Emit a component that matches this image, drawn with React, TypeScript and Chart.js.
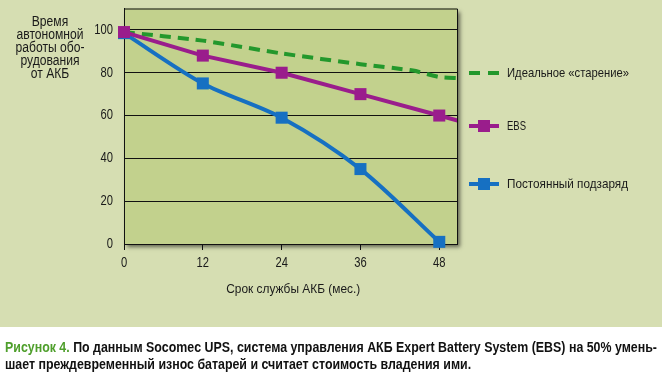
import React, { useEffect, useRef } from "react";
import { Chart, registerables } from "chart.js";

Chart.register(...registerables);

const FONT = "'Liberation Sans', Arial, sans-serif";

// Data (months, % of autonomous runtime)
const idealMonths = [0, 12, 24, 36, 44, 48, 51];
const idealValues = [99, 95, 89, 84, 81, 78, 77.5];
const ebsMonths = [0, 12, 24, 36, 48, 51];
const ebsValues = [99, 88, 80, 70, 60, 57.5];
const floatMonths = [0, 12, 24, 36, 48];
const floatValues = [98.5, 75, 59, 35, 1];

const xTicks = [0, 12, 24, 36, 48];
const yTicks = [0, 20, 40, 60, 80, 100];

const seriesNames = ["Идеальное «старение»", "EBS", "Постоянный подзаряд"];
const yTitleLines = ["Время", "автономной", "работы обо-", "рудования", "от АКБ"];
const xTitle = "Срок службы АКБ (мес.)";
const captionLead = "Рисунок 4.";
const captionLine1 = " По данным Socomec UPS, система управления АКБ Expert Battery System (EBS) на 50% умень-";
const captionLine2 = "шает преждевременный износ батарей и считает стоимость владения ими.";

const GREEN = "#23982c";
const PURPLE = "#9a1d8c";
const BLUE = "#1670c2";
const BG = "#d6deb2";
const PLOT = "#c2d18d";
const TEXT = "#1a1a1a";
const TICK_SQUEEZE = 0.8;

const bgPlugin = {
  id: "bgPlugin",
  beforeDraw(chart: any) {
    const { ctx, chartArea: a, width, height } = chart;
    ctx.save();
    ctx.fillStyle = "#ffffff";
    ctx.fillRect(0, 0, width, height);
    ctx.fillStyle = BG;
    ctx.fillRect(0, 0, width, 327);
    ctx.shadowColor = "rgba(0,0,0,0.55)";
    ctx.shadowBlur = 4;
    ctx.shadowOffsetX = 3;
    ctx.shadowOffsetY = 3;
    ctx.fillStyle = PLOT;
    ctx.fillRect(a.left, a.top, a.right - a.left, a.bottom - a.top);
    ctx.shadowColor = "transparent";
    ctx.strokeStyle = "#111";
    ctx.lineWidth = 1;
    ctx.beginPath();
    ctx.moveTo(a.left, a.top + 0.5);
    ctx.lineTo(a.right + 0.5, a.top + 0.5);
    ctx.lineTo(a.right + 0.5, a.bottom);
    ctx.stroke();
    ctx.restore();
  },
};

// draws the scales' tick labels in a condensed face
const tickLabelPlugin = {
  id: "tickLabelPlugin",
  afterDraw(chart: any) {
    const { ctx } = chart;
    const xs = chart.scales.x;
    const ys = chart.scales.y;
    ctx.save();
    ctx.fillStyle = TEXT;
    ctx.font = `14px ${FONT}`;
    ctx.textBaseline = "middle";
    const draw = (text: string, x: number, y: number, align: "center" | "right") => {
      ctx.save();
      ctx.translate(x, y);
      ctx.scale(TICK_SQUEEZE, 1);
      ctx.textAlign = align;
      ctx.fillText(text, 0, 0);
      ctx.restore();
    };
    xs.ticks.forEach((t: any) => draw(String(t.value), xs.getPixelForValue(t.value), xs.top + 19, "center"));
    ys.ticks.forEach((t: any) => draw(String(t.value), ys.right - 11, ys.getPixelForValue(t.value), "right"));
    ctx.restore();
  },
};

function toXY(xs: number[], ys: number[]) {
  return xs.map((x, i) => ({ x, y: ys[i] }));
}

function LegendMark({ color, dashed }: { color: string; dashed?: boolean }) {
  if (dashed) {
    return (
      <div style={{ position: "relative", width: 30, height: 12 }}>
        <div style={{ position: "absolute", left: 0, top: 4, width: 11, height: 4, background: color }} />
        <div style={{ position: "absolute", left: 19, top: 4, width: 11, height: 4, background: color }} />
      </div>
    );
  }
  return (
    <div style={{ position: "relative", width: 30, height: 12 }}>
      <div style={{ position: "absolute", left: 0, top: 4, width: 30, height: 4, background: color }} />
      <div style={{ position: "absolute", left: 9, top: 0, width: 12, height: 12, background: color }} />
    </div>
  );
}

export default function App() {
  const ref = useRef<HTMLCanvasElement | null>(null);
  const rootRef = useRef<HTMLDivElement | null>(null);

  useEffect(() => {
    // squeeze html text horizontally to the condensed widths of the original
    const root = rootRef.current;
    if (root) {
      root.querySelectorAll<HTMLElement>("[data-w]").forEach((el) => {
        const target = parseFloat(el.dataset.w || "0");
        const measureEl = (el.querySelector("[data-m]") as HTMLElement) || el;
        const w = measureEl.getBoundingClientRect().width;
        if (w > 0 && target > 0) el.style.transform = `scaleX(${target / w})`;
      });
    }
    if (!ref.current) return;
    const chart = new Chart(ref.current, {
      type: "line",
      data: {
        datasets: [
          {
            label: seriesNames[1],
            data: toXY(ebsMonths, ebsValues),
            borderColor: PURPLE,
            backgroundColor: PURPLE,
            borderWidth: 4,
            pointStyle: "rect",
            pointRadius: ebsMonths.map((m) => (m <= 48 ? 8.5 : 0)),
            pointBorderWidth: 0,
            tension: 0,
            order: 0,
            clip: { left: false, top: false, right: 0, bottom: false } as any,
          },
          {
            label: seriesNames[2],
            data: toXY(floatMonths, floatValues),
            borderColor: BLUE,
            backgroundColor: BLUE,
            borderWidth: 4,
            pointStyle: "rect",
            pointRadius: 8.5,
            pointBorderWidth: 0,
            tension: 0.3,
            order: 1,
            clip: { left: false, top: false, right: 0, bottom: false } as any,
          },
          {
            label: seriesNames[0],
            data: toXY(idealMonths, idealValues),
            borderColor: GREEN,
            backgroundColor: GREEN,
            borderWidth: 4,
            borderDash: [11, 7],
            pointRadius: 0,
            tension: 0.2,
            order: 2,
            clip: { left: false, top: false, right: 0, bottom: false } as any,
          },
        ],
      },
      options: {
        responsive: false,
        animation: false,
        maintainAspectRatio: false,
        layout: { padding: { top: 8, right: 205, bottom: 0, left: 0 } },
        plugins: { legend: { display: false }, tooltip: { enabled: false } },
        scales: {
          x: {
            type: "linear",
            min: 0,
            max: 50.7,
            afterBuildTicks: (s: any) => {
              s.ticks = xTicks.map((v) => ({ value: v }));
            },
            afterFit: (s: any) => {
              s.height = 130;
              s.paddingLeft = 0;
              s.paddingRight = 0;
            },
            grid: { drawOnChartArea: false, drawTicks: true, tickLength: 6, color: "#111", lineWidth: 1 },
            border: { display: true, color: "#111", width: 1 },
            ticks: { display: false },
          },
          y: {
            type: "linear",
            min: 0,
            max: 110,
            afterBuildTicks: (s: any) => {
              s.ticks = yTicks.map((v) => ({ value: v }));
            },
            afterFit: (s: any) => {
              s.width = 124;
              s.paddingTop = 0;
              s.paddingBottom = 0;
            },
            grid: { drawTicks: false, color: "#111", lineWidth: 1 },
            border: { display: true, color: "#111", width: 1 },
            ticks: { display: false },
          },
        },
      },
      plugins: [bgPlugin, tickLabelPlugin],
    });
    return () => chart.destroy();
  }, []);

  const txt: React.CSSProperties = { position: "absolute", fontFamily: FONT, color: TEXT, whiteSpace: "nowrap" };

  return (
    <div ref={rootRef} style={{ position: "fixed", left: 0, top: 0, width: 662, height: 374, overflow: "hidden" }}>
      <canvas ref={ref} width={662} height={374} style={{ position: "absolute", left: 0, top: 0, width: 662, height: 374 }} />
      <div
        data-w="67"
        style={{ ...txt, left: 0, top: 15, width: 100, textAlign: "center", fontSize: 14, lineHeight: "13px", transformOrigin: "50px 0" }}
      >
        {yTitleLines.map((l, i) => (
          <div key={i}>
            <span data-m={i === 1 ? "1" : undefined}>{l}</span>
          </div>
        ))}
      </div>
      <div style={{ ...txt, left: 93, top: 281, width: 400, textAlign: "center", fontSize: 13, lineHeight: "16px" }}>
        <span data-w="134" style={{ display: "inline-block", transformOrigin: "50% 0" }}>{xTitle}</span>
      </div>
      {[GREEN, PURPLE, BLUE].map((c, i) => (
        <div key={i} style={{ position: "absolute", left: 469, top: [67, 120, 178][i] }}>
          <LegendMark color={c} dashed={i === 0} />
        </div>
      ))}
      {seriesNames.map((n, i) => (
        <div
          key={n}
          data-w={[122, 19, 121][i]}
          style={{ ...txt, left: 507, top: [65, 118, 176][i], fontSize: 13, lineHeight: "16px", transformOrigin: "0 0" }}
        >
          {n}
        </div>
      ))}
      <div
        data-w="652"
        style={{ ...txt, left: 5, top: 339, fontSize: 14, lineHeight: "17px", fontWeight: "bold", color: "#111", transformOrigin: "0 0" }}
      >
        <div>
          <span data-m="1">
            <span style={{ color: "#4f9f2c" }}>{captionLead}</span>
            {captionLine1}
          </span>
        </div>
        <div>{captionLine2}</div>
      </div>
    </div>
  );
}
